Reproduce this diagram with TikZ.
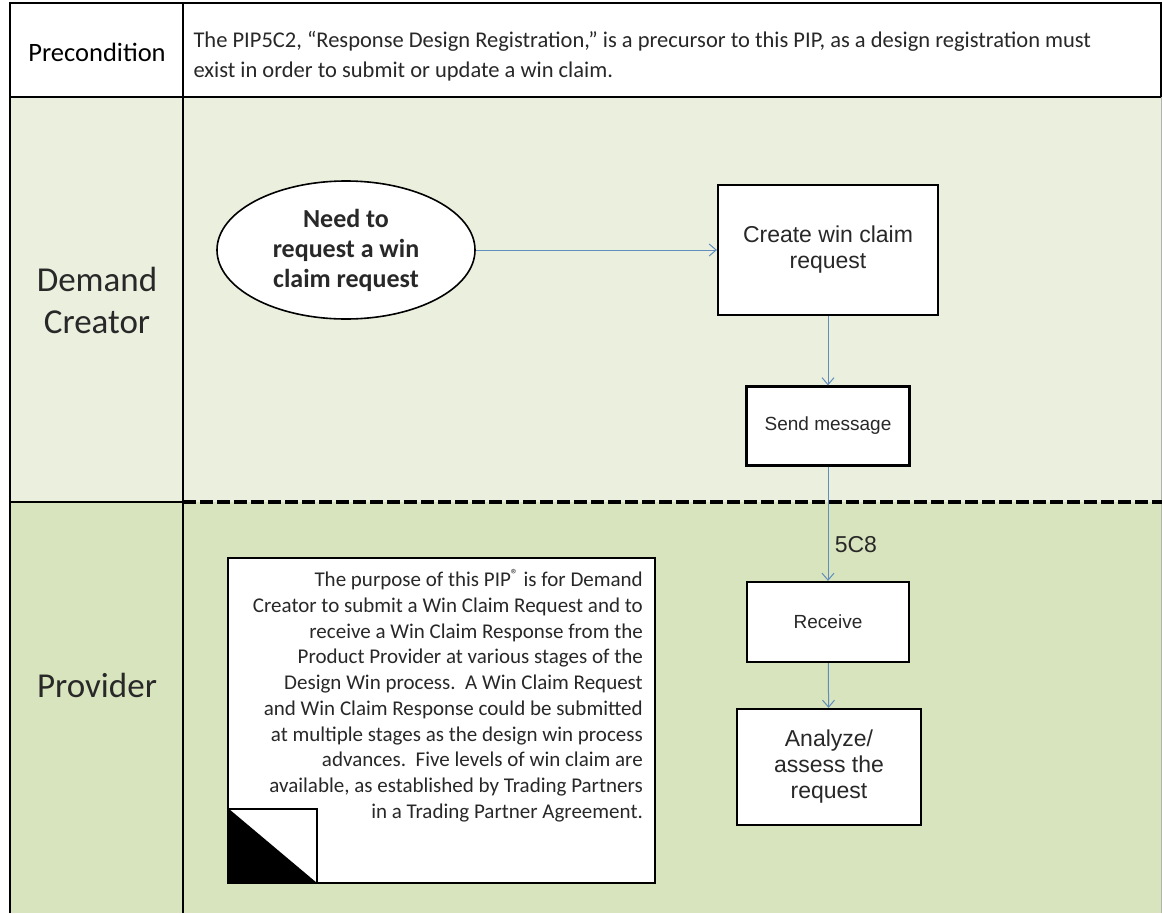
\documentclass[tikz,border=0pt]{standalone}
\usepackage{fontspec}
\setmainfont{Carlito}
\newfontfamily\arialfont{Liberation Sans}
\usetikzlibrary{shapes, arrows.meta, positioning, calc}
\definecolor{demandgreen}{RGB}{234, 239, 222}
\definecolor{provgreen}{RGB}{216, 228, 190}
\definecolor{flowblue}{RGB}{96, 141, 186}
\definecolor{inkgray}{RGB}{40, 40, 40}

\begin{document}
\begin{tikzpicture}[
  x=1pt, y=-1pt,
  lanelabel/.style={align=center, font=\fontsize{35}{42}\selectfont, text=inkgray},
  stepbox/.style={draw, line width=2.2pt, fill=white, align=center, text=inkgray, font=\arialfont},
  flow/.style={draw=flowblue, line width=1pt, -{Straight Barb[length=7pt, width=12pt]}},
  rule/.style={line width=2.6pt}
]
  \useasboundingbox (0,0) rectangle (1162,913);
  % lanes
  \fill[white] (10,3) rectangle (1161,97);
  \fill[demandgreen] (10,97) rectangle (1161,502);
  \fill[provgreen] (10,502) rectangle (1161,913);
  \draw[gray!60, line width=1pt] (1161,97) -- (1161,913);
  \draw[rule] (10,913) -- (10,3) -- (1161,3) -- (1161,97);
  \draw[rule] (10,97) -- (1161,97);
  \draw[rule] (183,3) -- (183,913);
  \draw[rule] (10,502) -- (183,502);
  \draw[line width=3.5pt, dash pattern=on 13pt off 4pt] (183,502) -- (1162,502);

  % lane labels
  \node[font=\fontsize{26.5}{30}\selectfont, text=black] (precond) at (97,52) {Precondition};
  \node[lanelabel] (demand) at (97,300) {Demand\\Creator};
  \node[lanelabel] (provider) at (97,685) {Provider};
  \node[anchor=west, align=left, font=\fontsize{22.5}{30}\selectfont, text=inkgray] (pretext) at (190,56)
    {The PIP5C2, ``Response Design Registration,'' is a precursor to this PIP, as a design registration must\\
     exist in order to submit or update a win claim.};

  % demand creator
  \node[ellipse, draw, line width=1.6pt, fill=white, minimum width=258pt, minimum height=138pt, inner sep=0pt,
        align=center, font=\bfseries\fontsize{26}{30}\selectfont, text=inkgray] (need) at (346,250)
    {Need to\\request a win\\claim request};
  \node[stepbox, minimum width=220pt, minimum height=130pt, font=\arialfont\fontsize{23}{26}\selectfont] (create) at (828,250)
    {Create win claim\\request};
  \node[stepbox, minimum width=163pt, minimum height=79pt, font=\arialfont\fontsize{19}{22}\selectfont] (send) at (828,426)
    {Send message};

  % provider
  \node[stepbox, minimum width=162pt, minimum height=80pt, font=\arialfont\fontsize{19}{22}\selectfont] (receive) at (828,622)
    {Receive};
  \node[stepbox, minimum width=184pt, minimum height=116pt, font=\arialfont\fontsize{23}{26}\selectfont] (analyze) at (829,767)
    {Analyze/\\assess the\\request};

  % note
  \node[draw, line width=2.2pt, fill=white, minimum width=427pt, minimum height=325pt] (note) at (441.5,720.5) {};
  \node[anchor=north east, align=right, font=\fontsize{21}{25.7}\selectfont, text=inkgray, inner sep=0pt] (notetext) at (643,569)
    {The purpose of this PIP\textsuperscript{\textregistered} is for Demand\\
     Creator to submit a Win Claim Request and to\\
     receive a Win Claim Response from the\\
     Product Provider at various stages of the\\
     Design Win process.\ \ A Win Claim Request\\
     and Win Claim Response could be submitted\\
     at multiple stages as the design win process\\
     advances.\ \ Five levels of win claim are\\
     available, as established by Trading Partners\\
     in a Trading Partner Agreement.};
  \coordinate (cornertl) at (229,809);
  \coordinate (cornerbr) at (317,883);
  \fill[black] (cornertl) -- (cornerbr) -| (cornertl) -- cycle;
  \draw[line width=2pt] (cornertl) rectangle (cornerbr);

  % connectors
  \draw[flow] (need) -- (create);
  \draw[flow] (create) -- (send);
  \draw[flow] (send) -- node[right, pos=0.68, xshift=3pt, font=\arialfont\fontsize{23}{26}\selectfont, text=inkgray] (msgid) {5C8} (receive);
  \draw[flow] (receive) -- (analyze);
\end{tikzpicture}
\end{document}
